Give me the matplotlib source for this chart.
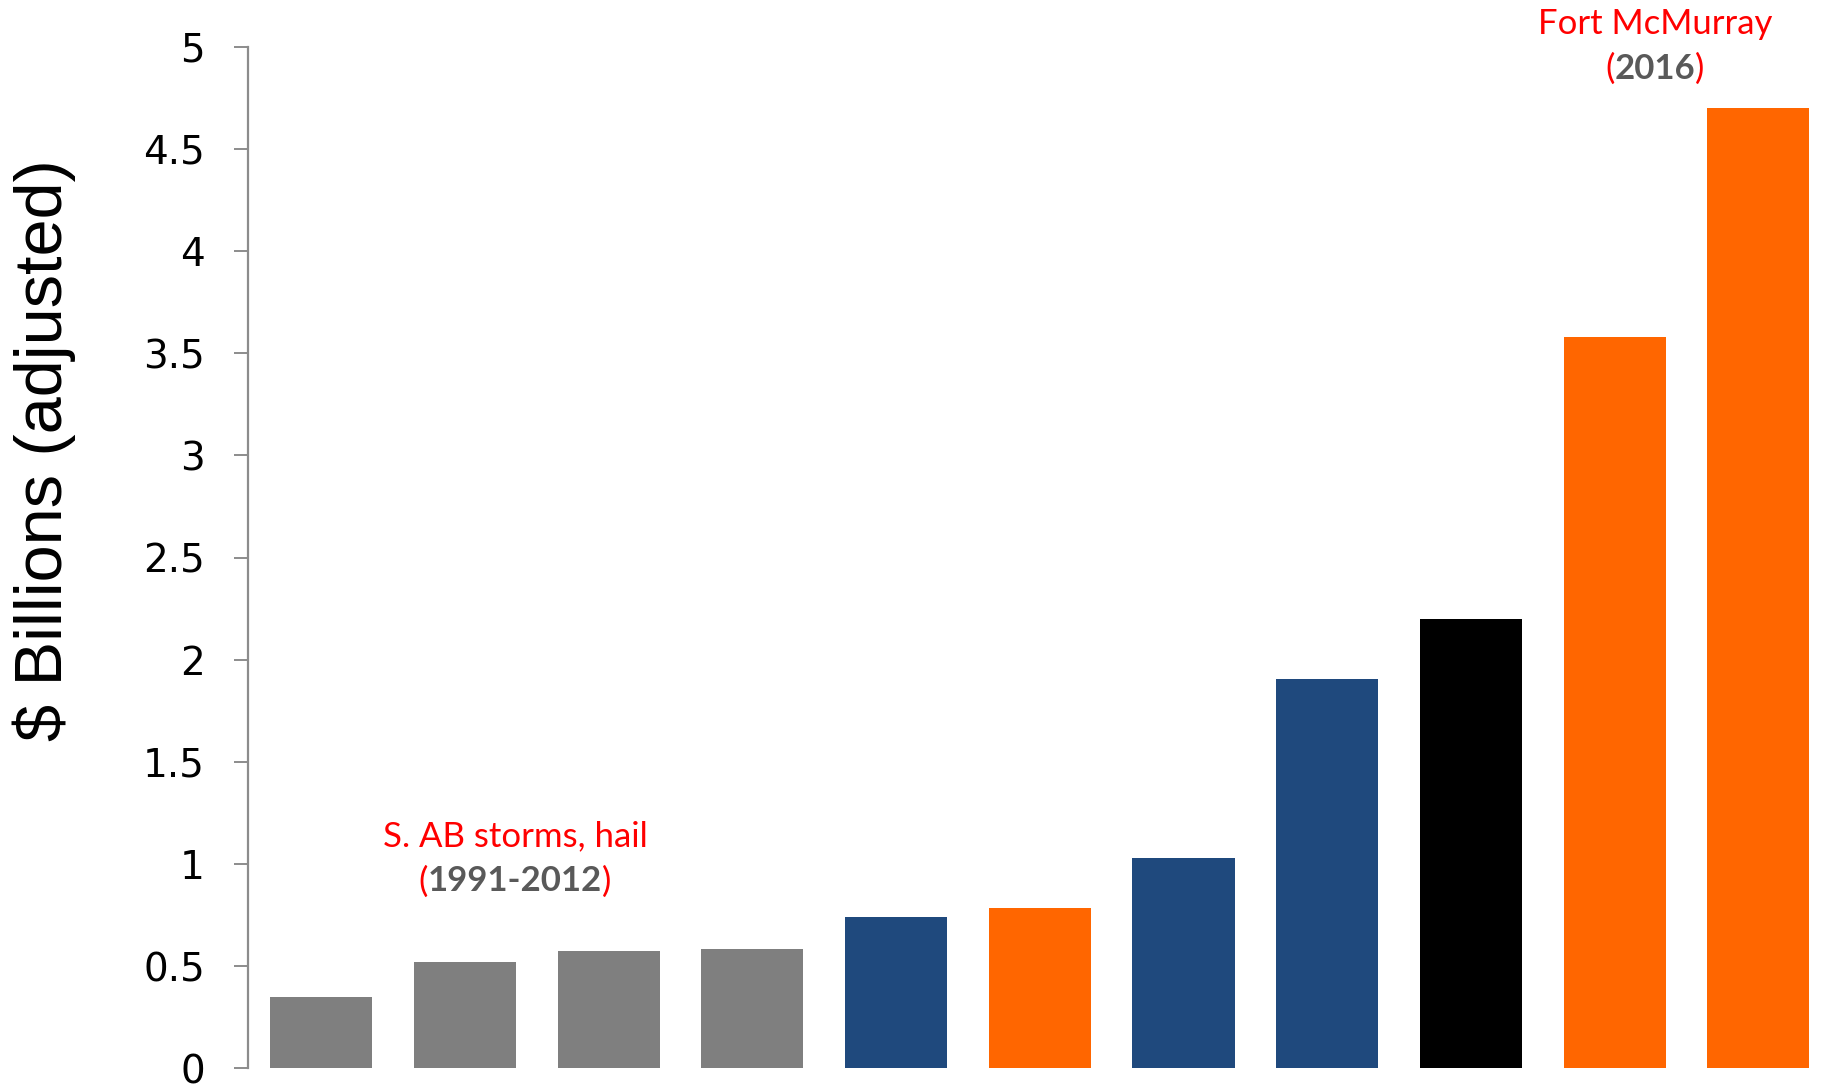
import matplotlib
matplotlib.use('Agg')
import matplotlib.pyplot as plt

# Insured losses, largest Alberta catastrophes
losses = [0.35, 0.52, 0.575, 0.585, 0.74, 0.785, 1.03, 1.905, 2.20, 3.58, 4.70]
bar_colors = ['#7f7f7f', '#7f7f7f', '#7f7f7f', '#7f7f7f', '#1f497d', '#ff6600',
              '#1f497d', '#1f497d', '#000000', '#ff6600', '#ff6600']
y_ticks = [0, 0.5, 1, 1.5, 2, 2.5, 3, 3.5, 4, 4.5, 5]
y_tick_labels = ['0', '0.5', '1', '1.5', '2', '2.5', '3', '3.5', '4', '4.5', '5']

RED = '#ff0000'
DARK = '#595959'
NOTE_SIZE = 25

fig = plt.figure(figsize=(18.23, 10.84), dpi=100)
ax = fig.add_axes([0.136, 0.0143, 0.864, 0.9427])

xs = list(range(len(losses)))
ax.bar(xs, losses, width=0.71, color=bar_colors)

ax.set_xlim(-0.51, 10.45)
ax.set_ylim(0, 5)
ax.set_yticks(y_ticks)
ax.set_yticklabels(y_tick_labels, fontfamily='DejaVu Sans', fontsize=28)
ax.set_xticks([])

for side in ['top', 'right', 'bottom']:
    ax.spines[side].set_visible(False)
ax.spines['left'].set_color('#8c8c8c')
ax.spines['left'].set_linewidth(1.6)
ax.tick_params(axis='y', length=10, width=1.4, color='#8c8c8c', pad=21)

fig.text(44 / 1823, 1 - 450 / 1084, '$ Billions (adjusted)', rotation=90,
         ha='center', va='center', fontsize=48, fontfamily='Liberation Sans')


def two_line_note(x, y1, y2, title, years):
    ax.text(x, y1, title, ha='center', va='center', color=RED,
            fontsize=NOTE_SIZE, fontfamily='Lato', clip_on=False)
    mid = ax.text(x, y2, years, ha='center', va='center', color=DARK,
                  fontsize=NOTE_SIZE, fontfamily='Lato', fontweight='bold',
                  clip_on=False)
    ax.annotate('(', xy=(0, 0.5), xycoords=mid, ha='right', va='center',
                color=RED, fontsize=NOTE_SIZE, fontfamily='Lato',
                annotation_clip=False)
    ax.annotate(')', xy=(1, 0.5), xycoords=mid, ha='left', va='center',
                color=RED, fontsize=NOTE_SIZE, fontfamily='Lato',
                annotation_clip=False)


two_line_note(1.35, 1.135, 0.915, 'S. AB storms, hail', '1991-2012')
two_line_note(9.28, 5.11, 4.89, 'Fort McMurray', '2016')

fig.savefig('out.png', dpi=100)
